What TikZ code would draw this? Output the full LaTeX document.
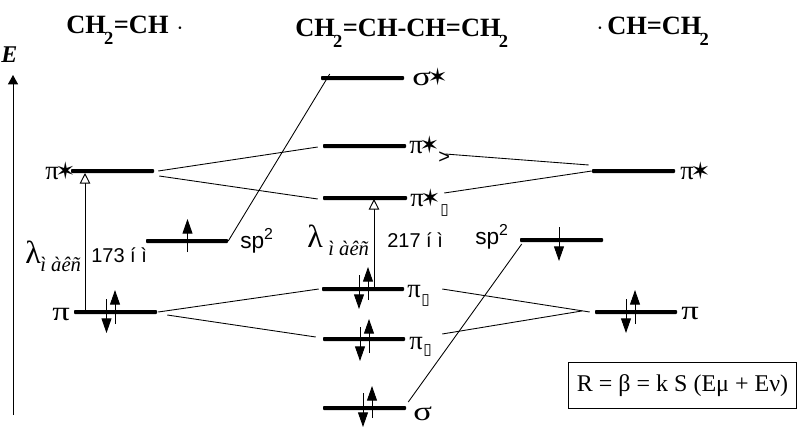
\documentclass[tikz,border=0pt]{standalone}
\usepackage{fontspec}
\setmainfont{Liberation Serif}
\setsansfont{Liberation Sans}
\newfontfamily\symfont{DejaVu Sans}
\usetikzlibrary{arrows.meta}
\newcommand\fs[1]{\fontsize{#1}{#1}\selectfont}
\newcommand\starg{{\symfont\fs{18}\raisebox{-0.3pt}{✶}}}
\newcommand\boxg{{\symfont\fs{11.5}▯}}
\newcommand\wide[1]{\scalebox{1.3}[1]{#1}}
\newcommand\lvl[4]{\node[levelbar,minimum width={(#3-#2)*0.75pt}] (#1) at ({(#2+#3)/2},#4) {};}
\newcommand\spinarr[4]{\draw[spinarrow] ([shift={(#2,#3)}]#1.center) -- ([shift={(#2,#4)}]#1.center);}
\newcommand\subtwo{\textsubscript{\raisebox{-0.9ex}{\kern-0.1em 2}}}
\tikzset{
 levelbar/.style={fill=black,inner sep=0pt,minimum height=3pt,rounded corners=0.7pt},
 conn/.style={line width=0.65pt},
 spinarrow/.style={line width=0.7pt,-{Triangle[length=11pt,width=7.5pt]}},
 openarrow/.style={line width=0.7pt,-{Triangle[open,length=8pt,width=8pt,fill=white]}},
 axisarrow/.style={line width=0.75pt,-{Triangle[length=7pt,width=7.5pt]}},
 title/.style={inner sep=0pt,anchor=base west,font=\fs{19.8}\bfseries},
 lab/.style={inner sep=0pt,anchor=base west,font=\fs{20}},
 sflab/.style={inner sep=0pt,anchor=base west,font=\fs{15}\sffamily},
 sublab/.style={inner sep=0pt,anchor=base west,font=\fs{15.5}\itshape},
 boxlab/.style={inner sep=0pt,anchor=base west},
}
\begin{document}
\begin{tikzpicture}[x=0.75pt,y=-0.75pt]
\useasboundingbox (0,0) rectangle (801,436);
% titles
\node[title] (t1) at (66,33) {CH\subtwo=CH};
\node[lab,font=\fs{12}\bfseries] (t1d) at (177,33) {·};
\node[title] (t2) at (295,36) {CH\subtwo=CH-CH=CH\subtwo};
\node[lab,font=\fs{12}\bfseries] (t3d) at (597,33) {·};
\node[title] (t3) at (607,34) {CH=CH\subtwo};
\node[lab,font=\fs{18}\bfseries\itshape] (E) at (1,62) {E};
% axis
\coordinate (axb) at (13,415);
\coordinate (axt) at (13,75);
\draw[axisarrow] (axb) -- (axt);
% levels
\lvl{lps}{71}{154}{171}
\lvl{lsp}{146}{228}{241}
\lvl{lp}{74}{157}{312}
\lvl{cs}{321}{404}{78}
\lvl{cps}{323}{406}{146}
\lvl{cpa}{323}{407}{198}
\lvl{cpb}{322}{404}{289}
\lvl{cpc}{323}{405}{339}
\lvl{cg}{323}{406}{408}
\lvl{rps}{592}{675}{171}
\lvl{rsp}{520}{603}{240}
\lvl{rp}{595}{677}{312}
% connectors
\draw[conn] ([shift={(4,0)}]lps.east) -- ([shift={(-5,1)}]cps.west);
\draw[conn] ([shift={(5,5)}]lps.east) -- ([shift={(-5,1)}]cpa.west);
\draw[conn] ([shift={(1,0)}]lp.east) -- ([shift={(-3,0)}]cpb.west);
\draw[conn] ([shift={(10,3)}]lp.east) -- ([shift={(-7,-2)}]cpc.west);
\draw[conn] (lsp.east) -- ([shift={(9,-4)}]cs.west);
\draw[conn] ([shift={(39,8)}]cps.east) -- ([shift={(-3,-6)}]rps.west);
\draw[conn] ([shift={(37,-5)}]cpa.east) -- (rps.west);
\draw[conn] ([shift={(38,0)}]cpb.east) -- ([shift={(-5,0)}]rp.west);
\draw[conn] ([shift={(37,-5)}]cpc.east) -- ([shift={(-13,-1)}]rp.west);
\draw[conn] ([shift={(2,-6)}]cg.east) -- ([shift={(2,4)}]rsp.west);
% transition arrows
\draw[openarrow] ([shift={(-30.5,0)}]lp.center) -- ([shift={(-27.5,2)}]lps.center);
\draw[openarrow] ([shift={(11,0)}]cpb.center) -- ([shift={(9,1)}]cpa.center);
% spins
\spinarr{lsp}{0.5}{11}{-22}
\spinarr{lp}{-0.5}{12}{-22}
\spinarr{lp}{-9}{-13}{21}
\spinarr{cpb}{5}{11}{-22}
\spinarr{cpb}{-4}{-14}{20}
\spinarr{cpc}{5}{14}{-20}
\spinarr{cpc}{-4}{-12}{22}
\spinarr{cg}{7.5}{10}{-22}
\spinarr{cg}{-1.5}{-15}{19}
\spinarr{rsp}{-2.5}{-13}{21}
\spinarr{rp}{-1}{12}{-22}
\spinarr{rp}{-10}{-13}{21}
% level labels
\node[lab] (l1) at (45,179) {π\kern-2.5pt\starg};
\node[lab] (l2) at (52,320) {\wide{π}};
\node[sflab,font=\fs{17}\sffamily] (l3) at (240,248) {sp\textsuperscript{2}};
\node[lab,font=\fs{24}] (l4) at (25,263) {λ};
\node[sublab] (l5) at (40,271) {ì àêñ};
\node[sflab] (l6) at (91,262) {173 í ì};
\node[lab] (c1) at (412,85) {\wide{σ}\kern-2.5pt\starg};
\node[lab] (c2) at (409,153) {π\kern-2.5pt\starg};
\node[sflab,font=\fs{15}\sffamily] (c2b) at (438,163) {>};
\node[lab] (c3) at (410,206) {π\kern-2.5pt\starg};
\node[boxlab] (c3b) at (440,214) {\boxg};
\node[lab,font=\fs{24}] (c4) at (307,247) {λ};
\node[sublab] (c5) at (328,255) {ì àêñ};
\node[sflab] (c6) at (387,247) {217 í ì};
\node[sflab,font=\fs{17}\sffamily] (c7) at (475,244) {sp\textsuperscript{2}};
\node[lab] (c8) at (407,297) {π};
\node[boxlab] (c8b) at (421,304) {\boxg};
\node[lab] (c9) at (409,349) {π};
\node[boxlab] (c9b) at (423,354) {\boxg};
\node[lab] (c10) at (413,420) {\wide{σ}};
\node[lab] (r1) at (681,319) {\wide{π}};
\node[lab] (r2) at (680,179) {π\kern-2.5pt\starg};
% formula
\node[draw,line width=0.7pt,inner sep=0pt,minimum width=171pt,minimum height=35pt,font=\fs{18}] (f) at (682.5,385.5) {R = β = k S (Eμ + Eν)};
\end{tikzpicture}
\end{document}
